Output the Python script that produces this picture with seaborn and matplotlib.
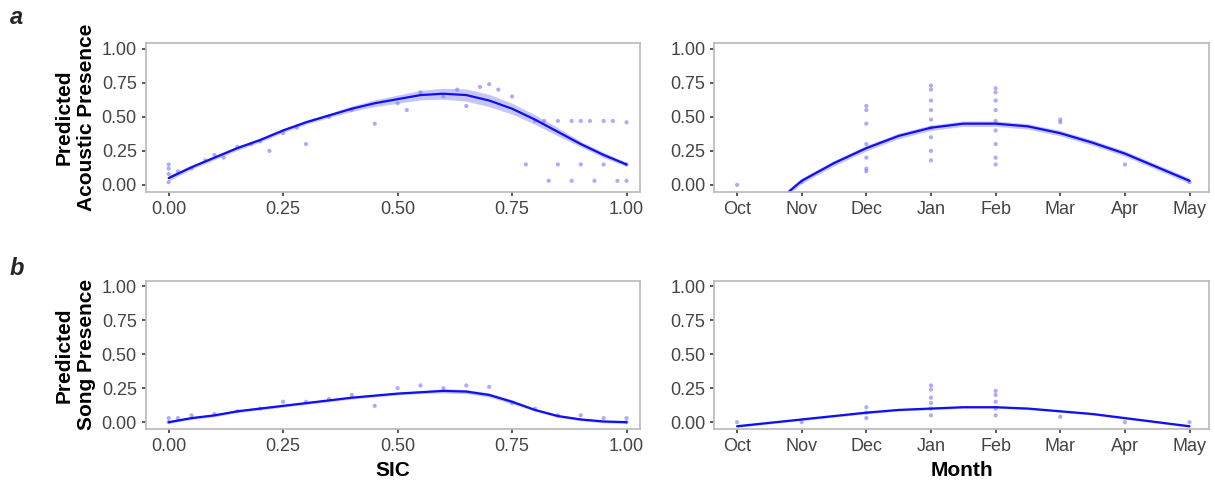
import numpy as np
import pandas as pd
import seaborn as sns
import matplotlib.pyplot as plt

# Kurven
sic_x = [0.0, 0.05, 0.1, 0.15, 0.2, 0.25, 0.3, 0.35, 0.4, 0.45, 0.5, 0.55, 0.6, 0.65, 0.7, 0.75, 0.8, 0.85, 0.9, 0.95, 1.0]
ac_sic = [0.05, 0.13, 0.20, 0.27, 0.33, 0.40, 0.46, 0.51, 0.56, 0.60, 0.63, 0.66, 0.67, 0.66, 0.62, 0.56, 0.48, 0.39, 0.30, 0.22, 0.15]
ac_sic_se = [0.02, 0.015, 0.015, 0.015, 0.015, 0.015, 0.015, 0.015, 0.02, 0.025, 0.03, 0.035, 0.04, 0.045, 0.045, 0.04, 0.035, 0.03, 0.02, 0.02, 0.015]
song_sic = [0.0, 0.03, 0.05, 0.08, 0.10, 0.12, 0.14, 0.16, 0.18, 0.195, 0.21, 0.22, 0.23, 0.225, 0.20, 0.15, 0.09, 0.045, 0.02, 0.005, 0.0]
song_sic_se = [0.01] * 12 + [0.015, 0.015, 0.015, 0.015, 0.01, 0.01, 0.01, 0.01, 0.01]

months = ["Oct", "Nov", "Dec", "Jan", "Feb", "Mar", "Apr", "May"]
ac_mon_x = [0.8, 1.0, 1.5, 2.0, 2.5, 3.0, 3.5, 4.0, 4.5, 5.0, 5.5, 6.0, 6.5, 7.0]
ac_mon = [-0.05, 0.03, 0.16, 0.27, 0.36, 0.42, 0.45, 0.45, 0.43, 0.38, 0.31, 0.23, 0.13, 0.03]
song_mon_x = [0, 0.5, 1, 1.5, 2, 2.5, 3, 3.5, 4, 4.5, 5, 5.5, 6, 6.5, 7]
song_mon = [-0.03, -0.005, 0.02, 0.045, 0.07, 0.09, 0.10, 0.11, 0.11, 0.10, 0.08, 0.06, 0.03, 0.0, -0.03]

# Punkte
ac_sic_px = [0, 0, 0, 0, 0.02, 0.05, 0.08, 0.1, 0.12, 0.15, 0.18, 0.2, 0.22, 0.25, 0.28, 0.3, 0.35, 0.4, 0.45, 0.5, 0.52, 0.55, 0.6, 0.63, 0.65, 0.68, 0.7, 0.72, 0.75, 0.8, 0.82, 0.85, 0.88, 0.9, 0.92, 0.95, 0.97, 1.0, 1.0, 1.0, 0.85, 0.9, 0.95, 0.88, 0.93, 0.98, 0.78, 0.83]
ac_sic_py = [0.02, 0.08, 0.12, 0.15, 0.1, 0.12, 0.18, 0.22, 0.2, 0.28, 0.3, 0.32, 0.25, 0.38, 0.42, 0.3, 0.5, 0.55, 0.45, 0.6, 0.55, 0.68, 0.65, 0.7, 0.58, 0.72, 0.74, 0.7, 0.65, 0.47, 0.47, 0.47, 0.47, 0.47, 0.47, 0.47, 0.47, 0.46, 0.15, 0.03, 0.15, 0.15, 0.15, 0.03, 0.03, 0.03, 0.15, 0.03]
song_sic_px = [0, 0, 0.02, 0.05, 0.1, 0.15, 0.2, 0.25, 0.3, 0.35, 0.4, 0.45, 0.5, 0.55, 0.6, 0.65, 0.7, 0.75, 0.8, 0.85, 0.9, 0.95, 1.0, 1.0]
song_sic_py = [0.0, 0.03, 0.03, 0.05, 0.06, 0.08, 0.1, 0.15, 0.15, 0.17, 0.2, 0.12, 0.25, 0.27, 0.25, 0.27, 0.26, 0.14, 0.1, 0.05, 0.05, 0.03, 0.0, 0.03]
ac_mon_px = [0, 1, 2, 2, 2, 2, 2, 2, 2, 3, 3, 3, 3, 3, 3, 3, 3, 3, 4, 4, 4, 4, 4, 4, 4, 4, 4, 5, 5, 6, 7]
ac_mon_py = [0.0, 0.02, 0.1, 0.12, 0.2, 0.3, 0.45, 0.55, 0.58, 0.18, 0.25, 0.35, 0.42, 0.48, 0.55, 0.62, 0.7, 0.73, 0.15, 0.2, 0.3, 0.4, 0.47, 0.55, 0.62, 0.68, 0.71, 0.46, 0.48, 0.15, 0.02]
song_mon_px = [0, 1, 2, 2, 2, 3, 3, 3, 3, 3, 3, 4, 4, 4, 4, 4, 5, 6, 7]
song_mon_py = [0.0, 0.0, 0.03, 0.07, 0.11, 0.05, 0.1, 0.14, 0.18, 0.24, 0.27, 0.05, 0.1, 0.15, 0.2, 0.23, 0.04, 0.0, 0.0]

sns.set_theme(style="white")
plt.rcParams["font.family"] = ["Liberation Sans", "DejaVu Sans"]

fig, axes = plt.subplots(2, 2, figsize=(12.15, 4.82), dpi=100)
blue = "#1010ee"

def panel(ax, px, py, cx, cy, se):
    sns.scatterplot(x=px, y=py, ax=ax, color="#4848f0", alpha=0.45, s=9, edgecolor="none")
    cy_a = np.array(cy); se_a = np.array(se)
    ax.fill_between(cx, cy_a - se_a, cy_a + se_a, color="#8080f0", alpha=0.45, lw=0)
    sns.lineplot(x=cx, y=cy, ax=ax, color=blue, lw=1.6)
    ax.set_ylim(-0.05, 1.04)
    ax.set_yticks([0, 0.25, 0.5, 0.75, 1.0])
    ax.set_yticklabels(["0.00", "0.25", "0.50", "0.75", "1.00"])
    for s in ax.spines.values():
        s.set_color("#bbbbbb")
    ax.tick_params(labelsize=13, colors="#444444", length=3, left=True, bottom=True)

panel(axes[0, 0], ac_sic_px, ac_sic_py, sic_x, ac_sic, ac_sic_se)
panel(axes[1, 0], song_sic_px, song_sic_py, sic_x, song_sic, song_sic_se)
panel(axes[0, 1], ac_mon_px, ac_mon_py, ac_mon_x, ac_mon, [0.02] * len(ac_mon))
panel(axes[1, 1], song_mon_px, song_mon_py, song_mon_x, song_mon, [0.008] * len(song_mon))

for ax in axes[:, 0]:
    ax.set_xlim(-0.05, 1.03)
    ax.set_xticks([0, 0.25, 0.5, 0.75, 1.0])
    ax.set_xticklabels(["0.00", "0.25", "0.50", "0.75", "1.00"])
for ax in axes[:, 1]:
    ax.set_xlim(-0.35, 7.3)
    ax.set_xticks(range(8))
    ax.set_xticklabels(months)

axes[0, 0].set_ylabel("Predicted\nAcoustic Presence", fontsize=15, fontweight="bold", color="black")
axes[1, 0].set_ylabel("Predicted\nSong Presence", fontsize=15, fontweight="bold", color="black")
axes[1, 0].set_xlabel("SIC", fontsize=15, fontweight="bold", color="black")
axes[1, 1].set_xlabel("Month", fontsize=15, fontweight="bold", color="black")

fig.subplots_adjust(left=0.12, right=0.995, top=0.91, bottom=0.11, wspace=0.15, hspace=0.6)
fig.text(0.008, 0.95, "a", fontsize=17, fontweight="bold", style="italic")
fig.text(0.008, 0.43, "b", fontsize=17, fontweight="bold", style="italic")

plt.savefig("out.png", dpi=100)
